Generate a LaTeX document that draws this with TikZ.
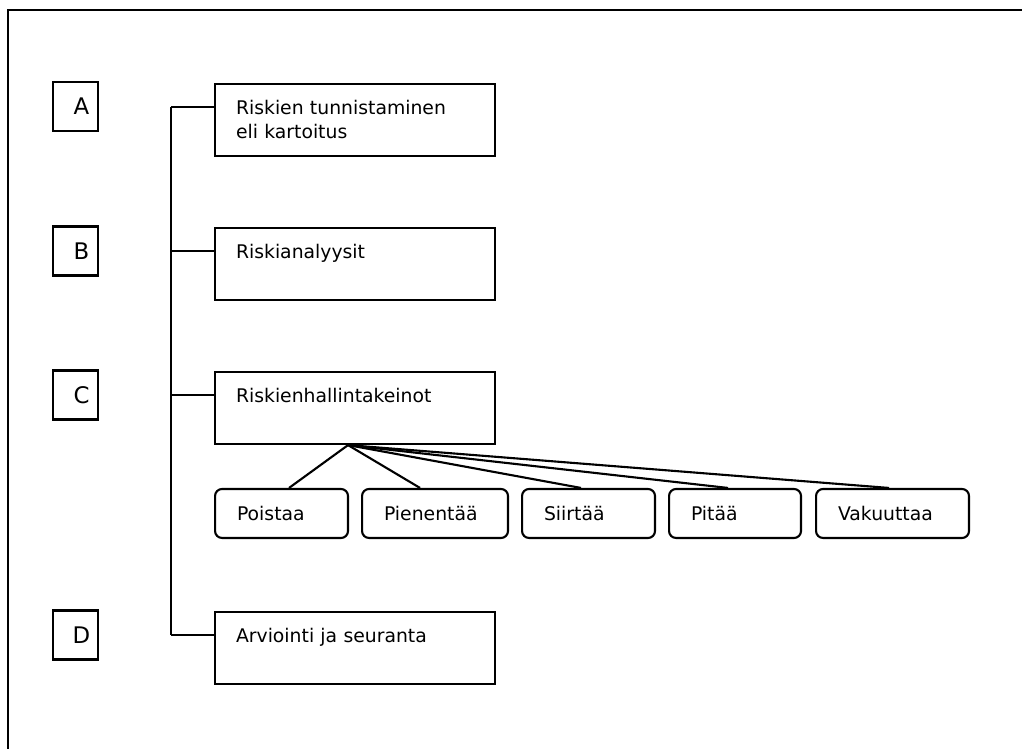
\documentclass[tikz,border=0pt]{standalone}
\usepackage{fontspec}
\setmainfont{DejaVu Sans}
\usepackage{tikz}

\begin{document}
\begin{tikzpicture}[x=0.02cm, y=-0.02cm, line width=1.2pt,
  letterbox/.style={draw, minimum width=0.9cm, minimum height=0.98cm, inner sep=0pt, font=\fontsize{13}{15}\selectfont},
  stepbox/.style={draw, anchor=north west, inner xsep=0.42cm, inner ysep=0pt, text width=4.76cm, align=left, text height=0.6cm, text depth=0.84cm, font=\fontsize{10.7}{13.7}\selectfont},
  optbox/.style={draw, rounded corners=4pt, anchor=west, inner xsep=0.44cm, inner ysep=0pt, minimum height=0.98cm, text width=#1, align=left, font=\fontsize{10.7}{13.7}\selectfont}]
  \useasboundingbox (0,0) rectangle (1022,749);

  % frame
  \draw (8,749) |- (1022,10);

  % phases
  \node[letterbox] (lA) at (75.5,106.5) {\hspace{6.8pt}A};
  \node[letterbox] (lB) at (75.5,251) {\hspace{6.8pt}B};
  \node[letterbox] (lC) at (75.5,395) {\hspace{6.8pt}C};
  \node[letterbox] (lD) at (75.5,635) {\hspace{6.8pt}D};

  \node[stepbox] (rA) at (214,83) {Riskien tunnistaminen\\eli kartoitus};
  \node[stepbox] (rB) at (214,227) {Riskianalyysit};
  \node[stepbox] (rC) at (214,371) {Riskienhallintakeinot};
  \node[stepbox] (rD) at (214,611) {Arviointi ja seuranta};

  % options
  \node[optbox=1.78cm] (oPoistaa) at (214,513.5) {Poistaa};
  \node[optbox=2.04cm] (oPienentaa) at (361,513.5) {Pienentää};
  \node[optbox=1.78cm] (oSiirtaa) at (521,513.5) {Siirtää};
  \node[optbox=1.76cm] (oPitaa) at (668,513.5) {Pitää};
  \node[optbox=2.18cm] (oVakuuttaa) at (815,513.5) {Vakuuttaa};

  % spine
  \coordinate (spine) at (171,0);
  \foreach \n in {A,B,C,D}{
    \coordinate (j\n) at ([yshift=-0.48cm]r\n.north west);
    \draw (j\n) -- (j\n -| spine);
  }
  \draw (jA -| spine) -- (jD -| spine);

  % fan
  \coordinate (fan) at ([xshift=-0.14cm]rC.south);
  \foreach \o/\s in {oPoistaa/0.15cm, oPienentaa/-0.3cm, oSiirtaa/-0.15cm, oPitaa/-0.14cm, oVakuuttaa/-0.07cm}
    \draw (fan) -- ([xshift=\s]\o.north);
\end{tikzpicture}
\end{document}
